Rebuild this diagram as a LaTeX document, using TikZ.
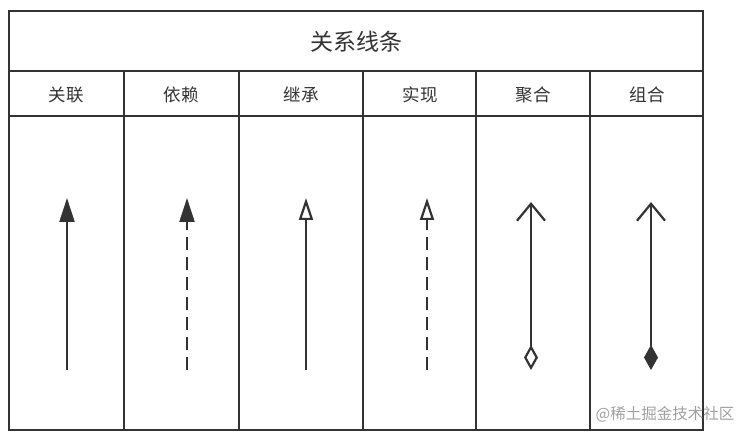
\documentclass[tikz,border=0pt]{standalone}
\usepackage{fontspec}
\newfontfamily\cjk{Noto Sans CJK SC}
\usetikzlibrary{arrows.meta,positioning}
\definecolor{cA}{HTML}{333333}
\definecolor{cB}{HTML}{a0a0a0}
\tikzset{
  frame/.style={draw=cA,line width=2.4pt},
  ttl/.style={font=\cjk\fontsize{23}{26}\selectfont,text=cA},
  head/.style={font=\cjk\fontsize{17.5}{20}\selectfont,text=cA},
  rel/.style={draw=cA,line width=2.2pt},
  dashline/.style={rel,dash pattern=on 13pt off 7pt},
  wmark/.style={font=\cjk\fontsize{15.5}{18}\selectfont,text=cB},
}

\begin{document}
\begin{tikzpicture}[x=1pt,y=-1pt]
  \useasboundingbox (0,0) rectangle (750,438);
  % table
  \draw[frame] (9,11) rectangle (703,430);
  \draw[frame] (9,71) -- (703,71);
  \draw[frame] (9,116) -- (703,116);
  \foreach \x in {124,239,363,476,590}
    \draw[frame] (\x,71) -- (\x,430);
  \node[ttl] (title) at (356,42) {关系线条};
  % column heads
  \node[head] (h1) at (66,95) {关联};
  \node[head] (h2) at (181,95) {依赖};
  \node[head] (h3) at (301,95) {继承};
  \node[head] (h4) at (420,95) {实现};
  \node[head] (h5) at (533,95) {聚合};
  \node[head] (h6) at (647,95) {组合};
  % arrow ends
  \foreach \x/\t [count=\i] in {67/198,187/198,306/198,427/198,531/202,651/202}{
    \coordinate (s\i) at (\x,370);
    \coordinate (e\i) at (\x,\t);
  }
  \draw[rel,-{Triangle[length=24pt,width=15pt]}] (s1) -- (e1);
  \draw[dashline,-{Triangle[length=24pt,width=15pt]}] (s2) -- (e2);
  \draw[rel,-{Triangle[open,length=22pt,width=14pt]}] (s3) -- (e3);
  \draw[dashline,-{Triangle[open,length=22pt,width=14pt]}] (s4) -- (e4);
  \draw[rel,{Diamond[open,length=25pt,width=14pt]}-{Straight Barb[length=17pt,width=28pt]}] (s5) -- (e5);
  \draw[rel,{Diamond[length=25pt,width=14pt]}-{Straight Barb[length=17pt,width=28pt]}] (s6) -- (e6);
  \node[wmark] (wm) at (665,414) {@稀土掘金技术社区};
\end{tikzpicture}
\end{document}
